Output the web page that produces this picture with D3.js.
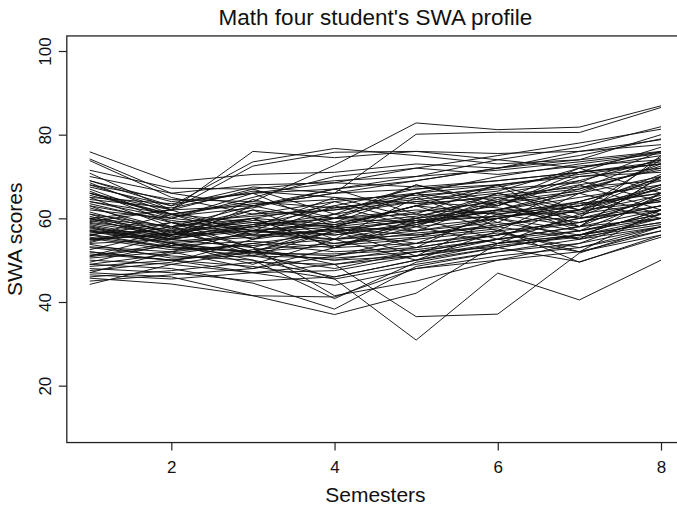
<!DOCTYPE html>
<html>
<head>
<meta charset="utf-8">
<script src="https://cdn.jsdelivr.net/npm/d3@7"></script>
<style>
  body { margin: 0; background: #fff; }
  text { font-family: "Liberation Sans", Arial, sans-serif; fill: #111; }
</style>
</head>
<body>
<div id="chart"></div>
<script>
// one row per student, one value per semester (1..8)
var semesters = [1, 2, 3, 4, 5, 6, 7, 8];
var xTicks = [2, 4, 6, 8];
var yTicks = [20, 40, 60, 80, 100];

// students near the top of the band
var topGroup = [
    [75.9, 68.7, 70.5, 71, 73, 72, 75, 79],
    [74.2, 66, 63, 66, 69, 72, 76, 78.8],
    [73.8, 65, 61, 64, 66, 70, 73, 75.5],
    [71.5, 67.2, 67, 69, 70, 74, 77, 81.9],
    [70.8, 62, 76, 74.5, 76, 74, 72, 76],
    [69, 63, 73.5, 76.7, 75, 73, 74, 80],
    [66, 62, 72.5, 75.8, 76, 75.5, 76, 77.6],
    [66, 61, 64, 72.7, 82.8, 81.2, 81.8, 86.9],
    [60, 62, 63, 66, 80.1, 80.6, 80.5, 86.5],
    [64, 60, 65, 70, 72, 75, 78, 81.3]
];

// the main bundle
var midGroupA = [
    [68, 62, 67, 61, 68, 64, 72, 66],
    [67, 60, 58, 65, 60, 66, 62, 74],
    [65, 58, 60, 63, 67, 69, 71, 73],
    [64, 61, 55, 60, 66, 59, 68, 62],
    [69, 64, 66, 67, 69, 72, 74, 76],
    [68.5, 61, 59, 58, 60, 62, 66, 70],
    [66.5, 59, 56, 55, 57, 60, 63, 67],
    [63, 56, 60, 53, 59, 64, 57, 65],
    [62, 60, 66, 58, 63, 68, 58, 70],
    [61, 58, 61, 62, 66, 68, 70, 71],
    [60, 55, 63, 59, 66, 63, 71, 73],
    [59.5, 56, 58, 56, 59, 62, 65, 68],
    [59, 57, 52, 57, 51, 60, 55, 66],
    [58.5, 55, 58, 60, 62, 61, 64, 69],
    [58, 54, 52, 50, 53, 56, 59, 63],
    [57.5, 56, 62, 55, 65, 58, 62, 67],
    [57, 55, 53, 49, 51, 55, 58, 62],
    [56.5, 57, 59, 57, 58, 60, 63, 66],
    [56, 59, 53, 58, 63, 57, 66, 61],
    [55.5, 53, 51, 48, 52, 55, 57, 61],
    [55, 56, 57, 55, 56, 58, 62, 64],
    [54.5, 58, 51, 57, 54, 61, 58, 70],
    [54, 55, 58, 61, 64, 66, 69, 74],
    [53, 51, 50, 46, 50, 53, 56, 59],
    [52.5, 57, 52, 58, 53, 62, 59, 65],
    [52, 50, 48.5, 45.5, 49, 52, 54, 58],
    [51, 56, 60, 53, 60, 55, 64, 60],
    [50.5, 52, 54, 52, 53, 56, 60, 63],
    [50, 49, 47, 44, 48, 51, 53, 57],
    [49.5, 54, 49, 55, 50, 57, 52, 62],
    [48.5, 50, 52, 50, 51, 54, 57, 60],
    [48, 47, 45, 46, 50, 54, 56, 62],
    [47, 52, 48, 53, 58, 54, 61, 64],
    [46, 47.5, 49.5, 49, 52, 55, 58, 60],
    [45, 46.5, 48, 51, 54, 56, 60, 64.5],
    [44.2, 49, 52, 53.5, 55, 57, 59, 63]
];

var midGroupB = [
    [70, 66, 68, 68.5, 67.5, 69, 71, 73.5],
    [67.5, 63, 67.5, 66, 67, 68, 70.5, 73],
    [65.5, 61, 63.5, 64.5, 65.5, 67, 68.5, 76],
    [64.5, 62.5, 66.5, 65, 63.5, 65, 67, 74.5],
    [63.5, 59, 60.5, 62, 64, 62.5, 60, 62],
    [62.5, 57.5, 62, 60, 61, 60, 57, 61],
    [61.5, 56.5, 59.5, 58, 57, 59, 56, 60],
    [60.5, 55.5, 57.5, 54, 56.5, 58, 55, 58],
    [60, 58, 63, 67, 61, 68, 62, 70],
    [59.2, 62, 56, 63, 58, 65, 60, 75],
    [58.2, 54.5, 56, 57, 59.5, 60.5, 62, 68],
    [57.8, 53.5, 54.5, 53, 54, 56.5, 53, 58],
    [57.2, 55.2, 57, 59, 61.5, 64, 66.5, 72.5],
    [56.8, 54, 51.5, 51.5, 52.5, 55, 52, 56],
    [55.8, 61, 57, 64, 59, 66, 61, 68],
    [55.2, 52.5, 53.5, 55, 58.5, 62, 67, 72],
    [54.8, 56.5, 58.5, 60, 59, 60.5, 61.5, 65.5],
    [53.8, 50.5, 51, 50.5, 52, 53, 49.6, 55.5],
    [53.2, 52, 57, 58.5, 60.5, 64.5, 68, 71.5],
    [51.5, 50, 52.5, 54, 55.5, 57.5, 49.5, 56],
    [50.8, 53.5, 56.5, 58, 63, 65.5, 67.5, 69],
    [49, 51.5, 54, 56.5, 60, 63, 70, 72],
    [47.5, 49.5, 55, 57.5, 59.5, 61.5, 63.5, 66],
    [46.5, 45.5, 47, 47.5, 51, 53.5, 55.5, 58.5],
    [68, 64.5, 64, 62.5, 65, 67.5, 71, 77],
    [66, 60.5, 62.5, 67, 70, 71.5, 73.5, 75.8],
    [65, 63.5, 66, 68.5, 72, 70.5, 72.5, 74],
    [63, 59.5, 57, 56, 58.5, 63.5, 66, 73],
    [61, 55.5, 58.5, 62.5, 64.5, 66.5, 72, 75],
    [59.8, 57.2, 60, 58.5, 63, 61, 63, 70.5],
    [58.8, 56, 64.5, 60, 68, 63, 69, 64],
    [57, 54.2, 55.5, 57.5, 56, 58.5, 60.5, 67.5],
    [56.2, 53.2, 52, 51, 55.5, 60, 64, 69.5],
    [54.2, 59, 55, 61, 57, 64, 58, 66]
];

// the ones that dip low
var lowGroup = [
    [56, 53, 52, 45.5, 30.9, 46.9, 40.5, 50],
    [52, 50, 47, 49, 36.5, 37.1, 51.7, 58],
    [47, 46, 41.5, 37, 42.1, 54, 56, 59],
    [45.7, 44.3, 41.5, 41.2, 48, 50, 52, 57],
    [49, 48, 44.5, 38.3, 48.5, 52, 55, 60],
    [51, 54, 50, 40.8, 49.5, 53, 56, 62],
    [55, 58, 53, 41.5, 45, 50, 54, 61]
];

var students = topGroup.concat(midGroupA, midGroupB, lowGroup);

var width = 677, height = 507;

var svg = d3.select("#chart").append("svg")
    .attr("width", width)
    .attr("height", height);

// R style: 4% padding around the data range, right edge runs off the picture
var x = d3.scaleLinear().domain([1, 8]).range([89.7, 661]);
var y = d3.scaleLinear().domain([10, 100]).range([427.5, 51]);

var xLo = x.invert(66.8), xHi = x.invert(684);
var yLo = 6.4, yHi = 103.6;

var line = d3.line()
    .x((d, i) => x(semesters[i]))
    .y(d => y(d));

svg.append("g")
    .selectAll("path")
    .data(students)
    .enter()
    .append("path")
    .attr("d", line)
    .attr("fill", "none")
    .attr("stroke", "#111")
    .attr("stroke-width", 0.95);

// frame
svg.append("rect")
    .attr("x", x(xLo))
    .attr("y", y(yHi))
    .attr("width", x(xHi) - x(xLo))
    .attr("height", y(yLo) - y(yHi))
    .attr("fill", "none")
    .attr("stroke", "#222")
    .attr("stroke-width", 1.3);

// x axis
var xAxis = svg.append("g")
    .attr("transform", "translate(0," + y(yLo) + ")")
    .call(d3.axisBottom(x).tickValues(xTicks).tickSize(8).tickPadding(10).tickFormat(d3.format("d")));
xAxis.select(".domain").remove();
xAxis.selectAll("line").attr("stroke", "#222").attr("stroke-width", 1.2);
xAxis.selectAll("text")
    .attr("font-size", "17px")
    .attr("font-family", "Liberation Sans, Arial, sans-serif")
    .attr("fill", "#111");

// y axis, labels turned like R's las=0
var yAxis = svg.append("g")
    .attr("transform", "translate(" + x(xLo) + ",0)")
    .call(d3.axisLeft(y).tickValues(yTicks).tickSize(8).tickFormat(d3.format("d")));
yAxis.select(".domain").remove();
yAxis.selectAll("line").attr("stroke", "#222").attr("stroke-width", 1.2);
yAxis.selectAll("text")
    .attr("x", null)
    .attr("dy", null)
    .attr("text-anchor", "middle")
    .attr("transform", "translate(" + (51 - x(xLo)) + ",0) rotate(-90)")
    .attr("font-size", "17px")
    .attr("font-family", "Liberation Sans, Arial, sans-serif")
    .attr("fill", "#111");

// titles
svg.append("text")
    .attr("x", (x(xLo) + x(xHi)) / 2)
    .attr("y", 25)
    .attr("text-anchor", "middle")
    .attr("font-size", "22.5px")
    .text("Math four student's SWA profile");

svg.append("text")
    .attr("x", (x(xLo) + x(xHi)) / 2)
    .attr("y", 502)
    .attr("text-anchor", "middle")
    .attr("font-size", "21px")
    .text("Semesters");

svg.append("text")
    .attr("transform", "translate(22," + (y(yLo) + y(yHi)) / 2 + ") rotate(-90)")
    .attr("text-anchor", "middle")
    .attr("font-size", "21px")
    .text("SWA scores");
</script>
</body>
</html>
